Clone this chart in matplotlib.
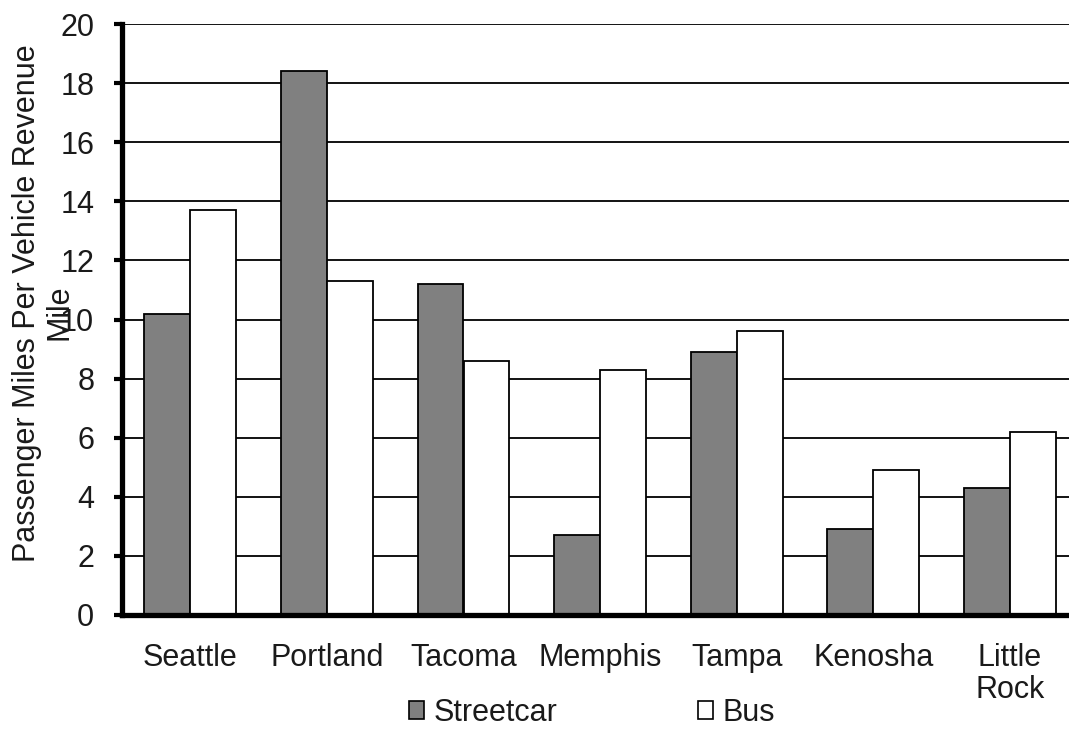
import matplotlib
matplotlib.use("Agg")
import matplotlib.pyplot as plt
import numpy as np
from matplotlib.patches import Patch

cities = ["Seattle", "Portland", "Tacoma", "Memphis", "Tampa", "Kenosha", "Little\nRock"]
streetcar = [10.2, 18.4, 11.2, 2.7, 8.9, 2.9, 4.3]
bus = [13.7, 11.3, 8.6, 8.3, 9.6, 4.9, 6.2]
yticks = [0, 2, 4, 6, 8, 10, 12, 14, 16, 18, 20]

plt.rcParams['font.family'] = ['Liberation Sans', 'DejaVu Sans']
FS = 22
TC = "#1a1a1a"
W, H = 1069, 730
fig = plt.figure(figsize=(W/100, H/100), dpi=100)
left, right, bottom, top = 122, 122 + 7*136.6, 615, 24
ax = fig.add_axes([left/W, (H-bottom)/H, (right-left)/W, (bottom-top)/H])

x = np.arange(len(cities))
bw = 0.336
ax.bar(x - bw/2, streetcar, bw, color="#808080", edgecolor="black", linewidth=1.3, zorder=3, label="Streetcar")
ax.bar(x + bw/2, bus, bw, color="white", edgecolor="black", linewidth=1.3, zorder=3, label="Bus")

ax.set_xlim(-0.5, len(cities) - 0.5)
ax.set_ylim(0, 20)
ax.set_yticks(yticks)
ax.set_yticklabels([str(t) for t in yticks], fontsize=FS, color=TC)
ax.yaxis.grid(True, color="black", linewidth=1.3, zorder=0)
ax.set_axisbelow(True)
ax.set_xticks(x)
ax.set_xticklabels(cities, fontsize=FS, color=TC, linespacing=1.1)
ax.tick_params(axis='x', length=0, pad=20)
ax.tick_params(axis='y', length=6, width=3, direction='out', pad=14)

for s in ["top", "right"]:
    ax.spines[s].set_visible(False)
ax.spines["left"].set_linewidth(3.8)
ax.spines["bottom"].set_linewidth(3.8)
ax.spines["bottom"].set_zorder(5)
ax.spines["left"].set_zorder(5)

fig.text(27/W, 1 - 303/H, "Passenger Miles Per Vehicle Revenue", rotation=90,
         ha="center", va="center", fontsize=FS, color=TC)
fig.text(59/W, 1 - 312/H, "Mile", rotation=90,
         ha="center", va="center", fontsize=FS, color=TC)

h1 = Patch(facecolor="#808080", edgecolor="black", linewidth=1.2)
h2 = Patch(facecolor="white", edgecolor="black", linewidth=1.2)
leg = fig.legend([h1, h2], ["Streetcar", "Bus"], loc="center", bbox_to_anchor=(592/W, 1 - 713/H),
                 ncol=2, frameon=False, fontsize=FS, handlelength=0.5, handleheight=0.5,
                 handletextpad=0.3, columnspacing=4.6, labelcolor=TC, borderpad=0.2)

fig.savefig("out.png", dpi=100)
